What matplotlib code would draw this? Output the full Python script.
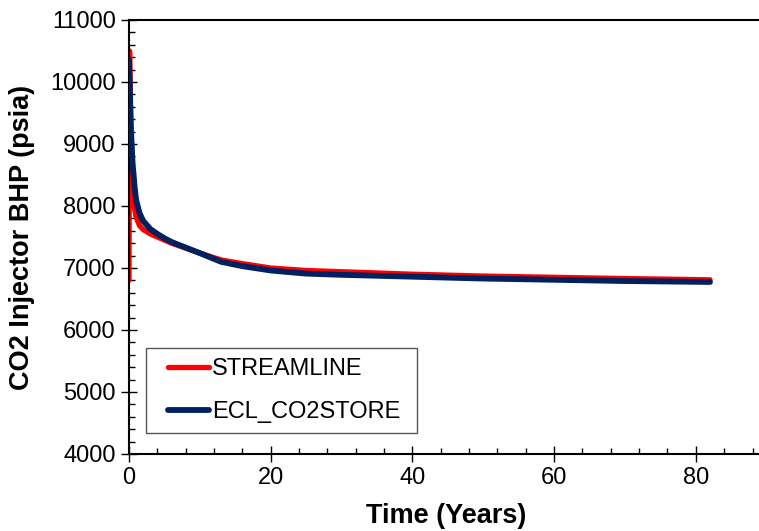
import matplotlib
matplotlib.use("Agg")
import matplotlib.pyplot as plt
from matplotlib.ticker import MultipleLocator
from matplotlib.patches import Rectangle

# Data
t_stream = [0, 0.08, 0.2, 0.4, 0.6, 0.8, 1.0, 1.5, 2, 3, 4, 5, 6, 8, 10, 13, 16, 20, 25, 30, 40, 50, 60, 70, 82]
p_stream = [6800, 10500, 9600, 8600, 8200, 7950, 7820, 7680, 7620, 7550, 7500, 7450, 7400, 7320, 7240, 7130, 7070, 7000, 6960, 6940, 6900, 6870, 6850, 6830, 6810]

t_ecl = [0, 0.1, 0.25, 0.5, 0.8, 1.0, 1.5, 2, 3, 4, 5, 6, 8, 10, 13, 16, 20, 25, 30, 40, 50, 60, 70, 82]
p_ecl = [10350, 10000, 9300, 8700, 8300, 8100, 7880, 7760, 7630, 7550, 7480, 7420, 7330, 7240, 7100, 7030, 6960, 6910, 6890, 6860, 6830, 6810, 6790, 6775]

labels = ["STREAMLINE", "ECL_CO2STORE"]
xlabel = "Time (Years)"
ylabel = "CO2 Injector BHP (psia)"

plt.rcParams['font.family'] = ['Liberation Sans', 'DejaVu Sans']

W, H = 759, 531
fig = plt.figure(figsize=(W / 100, H / 100), dpi=100)
ax = fig.add_axes([129 / W, (H - 454) / H, 630.6 / W, 434 / H])

ax.plot(t_stream, p_stream, color='#FF0000', lw=3.8, solid_capstyle='round', label=labels[0], zorder=2)
ax.plot(t_ecl, p_ecl, color='#002060', lw=4.2, solid_capstyle='round', label=labels[1], zorder=3)

ax.set_xlim(0, 89)
ax.set_ylim(4000, 11000)
ax.xaxis.set_major_locator(MultipleLocator(20))
ax.xaxis.set_minor_locator(MultipleLocator(4))
ax.yaxis.set_major_locator(MultipleLocator(1000))
ax.yaxis.set_minor_locator(MultipleLocator(200))
ax.tick_params(which='major', direction='inout', length=11, width=1.0, labelsize=17, color='black', pad=4)
ax.tick_params(which='minor', direction='in', length=4, width=1.0, color='black')
ax.tick_params(top=False, right=False, which='both')

for s in ['left', 'bottom', 'top']:
    ax.spines[s].set_linewidth(1.5)
    ax.spines[s].set_color('black')
ax.spines['right'].set_visible(False)

fig.text(446 / W, 1 - 516 / H, xlabel, fontsize=19.5, fontweight='bold', ha='center', va='center')
fig.text(22 / W, 1 - 237 / H, ylabel, fontsize=19.5, fontweight='bold', ha='center', va='center', rotation=90)

# legend frame
ax.add_patch(Rectangle((146 / W, 1 - 433 / H), (417 - 146) / W, (433 - 348) / H,
                       transform=fig.transFigure, facecolor='white', edgecolor='#555555',
                       lw=1.0, zorder=4, clip_on=False))
leg = ax.legend(loc='upper left', bbox_to_anchor=(168 / W, 1 - 358 / H), bbox_transform=fig.transFigure,
                fontsize=17, frameon=False, borderpad=0, labelspacing=0.9, handlelength=1.72,
                handletextpad=0.15, borderaxespad=0)
leg.set_zorder(5)

fig.savefig("out.png", dpi=100)
